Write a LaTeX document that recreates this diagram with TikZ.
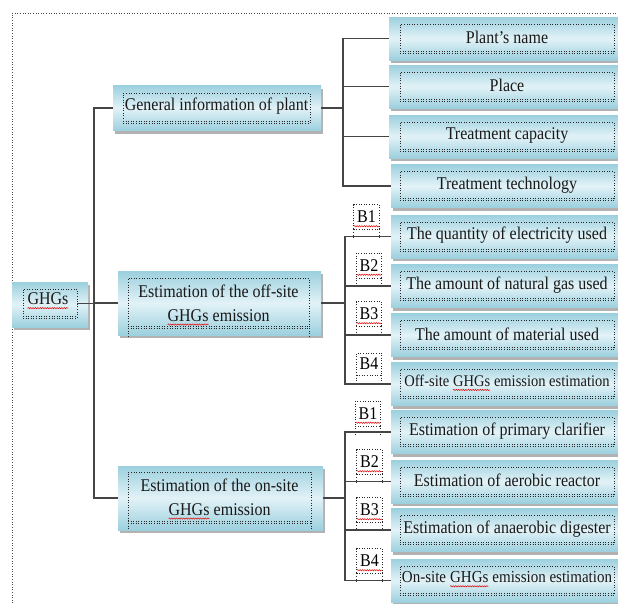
\documentclass[tikz,border=0pt]{standalone}
\usepackage{fontspec}
\setmainfont{Liberation Serif}
\usetikzlibrary{shadows,decorations.pathmorphing,calc}
\definecolor{boxedge}{HTML}{9CD0DE}
\definecolor{boxmid}{HTML}{E2F2F7}
\definecolor{connc}{HTML}{454545}
\newcommand\squig[1]{\tikz[baseline=(sq.base)]{\node[inner sep=0pt,outer sep=0pt](sq){#1};\draw[red!90!black,line width=0.45pt,decorate,decoration={snake,amplitude=0.6pt,segment length=2.4pt}] ([yshift=-3pt]sq.base west) -- ([yshift=-3pt]sq.base east);}}
\newcommand\tall[1]{\scalebox{1}[1.12]{#1}}
\tikzset{
  box/.style={draw=none, top color=boxedge, bottom color=boxedge, middle color=boxmid,
    drop shadow={shadow xshift=2pt, shadow yshift=-3pt, fill=black!55, opacity=0.55},
    inner sep=0pt, outer sep=0pt},
  frame/.style={draw=black!85, dotted, line width=0.6pt, inner sep=0pt, outer sep=0pt},
  bframe/.style={draw=black!85, dotted, line width=0.6pt, inner sep=0pt, outer sep=0pt,
    minimum width=25pt, minimum height=22pt, font=\fontsize{16}{20}\selectfont},
  lbl/.style={font=\fontsize{16}{24}\selectfont, inner sep=0pt, align=center, text=black!90},
  conn/.style={draw=connc, line width=1.6pt},
  outer/.style={draw=black!70, dotted, line width=0.6pt}
}
\begin{document}
\begin{tikzpicture}[x=1pt,y=-1pt]
\useasboundingbox (0,0) rectangle (618,603);
% outer dotted frame
\draw[outer] (12,603) -- (12,13) -- (618,13);

% GHGs
\node[box, minimum width=76pt, minimum height=45pt] (ghgs) at (50,304.5) {};
\node[frame, minimum width=54pt, minimum height=29pt] (ghgsin) at (50,303.5) {};
\node[lbl] (ghgst) at (48,301) {\tall{\squig{GHGs}}};

% General information
\node[box, minimum width=208pt, minimum height=45pt] (gen) at (217,108) {};
\node[frame, minimum width=187pt, minimum height=30pt] (genin) at (216.5,108) {};
\node[lbl] (gent) at (216.5,106) {\tall{General information of plant}};

% Off-site
\node[box, minimum width=203pt, minimum height=64pt] (offsite) at (219.5,303) {};
\node[frame, minimum width=181pt, minimum height=50pt] (offin) at (218.5,303) {};
\node[lbl] (offt) at (218.5,305) {\tall{Estimation of the off-site}\\\tall{\squig{GHGs} emission}};

% On-site
\node[box, minimum width=205pt, minimum height=64pt] (onsite) at (220.5,498) {};
\node[frame, minimum width=183pt, minimum height=51pt] (onin) at (219.5,497.5) {};
\node[lbl] (ont) at (219.5,499) {\tall{Estimation of the on-site}\\\tall{\squig{GHGs} emission}};

% double bottom lines and side extensions
\foreach \f in {ghgsin,genin,offin,onin}{
  \draw[frame] ([yshift=2pt]\f.south west) -- ([yshift=2pt]\f.south east);
}
\draw[frame] (offin.south west) -- ++(0,9);
\draw[frame] (offin.south east) -- ++(0,9);
\draw[frame] (onin.south west) -- ++(0,7);
\draw[frame] (onin.south east) -- ++(0,7);

% right boxes
\foreach \n/\x/\y/\t in {
  1/509/38.5/{Plant’s name},
  2/509/86.5/{Place},
  3/509/136.5/{Treatment capacity},
  4/511/186/{Treatment technology},
  5/511/236.5/{The quantity of electricity used},
  6/511/286/{The amount of natural gas used},
  7/511/335/{The amount of material used},
  8/511/384/{\fontsize{14.5}{18}\selectfont Off-site \squig{GHGs} emission estimation},
  9/511/432/{Estimation of primary clarifier},
  10/511/481.5/{Estimation of aerobic reactor},
  11/511/530/{Estimation of anaerobic digester},
  12/511/580.5/{\fontsize{15}{18}\selectfont On-site \squig{GHGs} emission estimation}}{
  \node[box, minimum width=240pt, minimum height=43pt] (r\n) at (\x,\y) {};
  \node[frame, minimum width=214pt, minimum height=29pt] (r\n in) at (507,\y) {};
  \draw[frame] ([yshift=2pt]r\n in.south west) -- ([yshift=2pt]r\n in.south east);
  \node[lbl] (r\n t) at (507,\y-1) {\tall{\t}};
}

% B labels
\foreach \nm/\x/\y/\t in {
  ob1/366.5/217/{\squig{B1}}, ob2/369/265.5/{\squig{B2}}, ob3/369/314/{\squig{B3}}, ob4/369/364/{B4},
  nb1/368/413.5/{\squig{B1}}, nb2/369.5/462/{\squig{B2}}, nb3/369.5/510/{\squig{B3}}, nb4/369.5/561/{\squig{B4}}}{
  \node[bframe] (\nm) at (\x,\y) {\tall{\t}};
  \draw[frame] (\nm.south west) -- ++(0,10);
  \draw[frame] (\nm.south east) -- ++(0,10);
}

% connectors: trunk
\coordinate (trunk) at (94,305);
\draw[conn] (ghgsin.east) -- (trunk |- ghgsin.east);
\draw[conn] (gen.west) -| (trunk) |- (onsite.west);
\draw[conn] (trunk |- offsite.west) -- (offsite.west);

% general group
\coordinate (j1) at (343,0);
\draw[conn] (gen.east) -- (j1 |- gen.east);
\draw[conn] (r1.west) -| (j1 |- r4.west) -- (r4.west);
\draw[conn] (j1 |- r2.west) -- (r2.west);
\draw[conn] (j1 |- r3.west) -- (r3.west);

% off-site group
\coordinate (j2) at (345,0);
\draw[conn] (offsite.east) -- (j2 |- offsite.east);
\draw[conn] (r5.west) -| (j2 |- r8.west) -- (r8.west);
\draw[conn] (j2 |- r6.west) -- (r6.west);
\draw[conn] (j2 |- r7.west) -- (r7.west);

% on-site group
\coordinate (j3) at (345,0);
\draw[conn] (onsite.east) -- (j3 |- onsite.east);
\draw[conn] (r9.west) -| (j3 |- r12.west) -- (r12.west);
\draw[conn] (j3 |- r10.west) -- (r10.west);
\draw[conn] (j3 |- r11.west) -- (r11.west);
\end{tikzpicture}
\end{document}
